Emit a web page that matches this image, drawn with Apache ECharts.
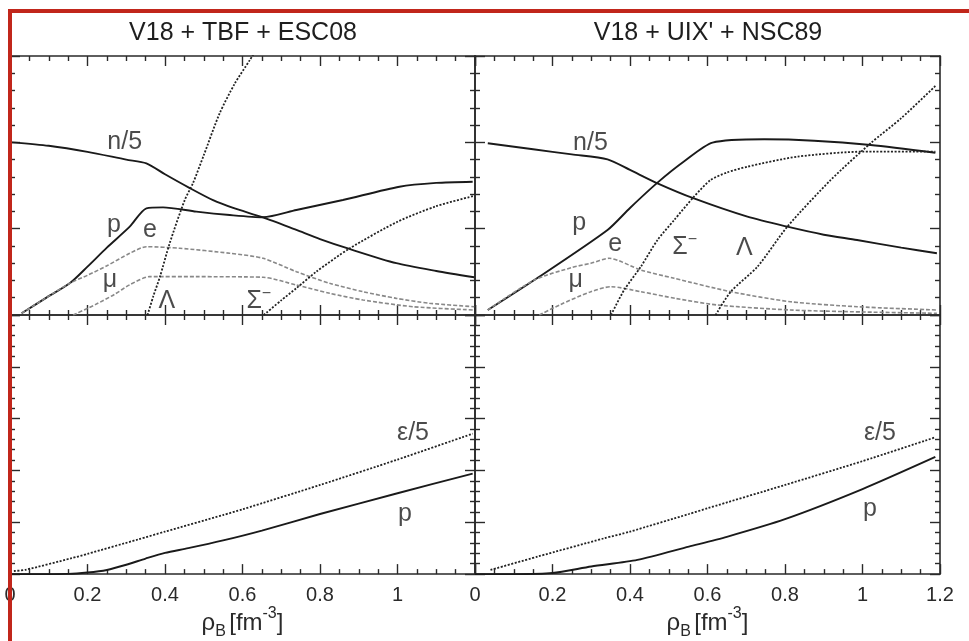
<!DOCTYPE html>
<html><head><meta charset="utf-8">
<script src="https://cdn.jsdelivr.net/npm/echarts@6/dist/echarts.min.js"></script>
<style>html,body{margin:0;padding:0;background:#fff}#c{width:969px;height:641px}</style>
</head><body><div id="c"></div>
<script>
// ---------- data ----------
const panelTitles = ['V18 + TBF + ESC08', "V18 + UIX' + NSC89"];
const xTickLabels = ['0', '0.2', '0.4', '0.6', '0.8', '1', '1.2'];

// top-left: particle fractions (V18 + TBF + ESC08)
const tlN5 = [[0.005,0.200],[0.10,0.196],[0.20,0.189],[0.30,0.180],[0.352,0.1757],[0.40,0.163],[0.464,0.147],[0.524,0.133],[0.576,0.124],[0.653,0.113],[0.739,0.0985],[0.80,0.088],[0.876,0.0765],[0.997,0.060],[1.10,0.051],[1.198,0.0437]];
const tlP   = [[0.03,0.002],[0.09,0.019],[0.155,0.037],[0.20,0.056],[0.25,0.078],[0.309,0.1023],[0.352,0.1236],[0.395,0.1247],[0.481,0.1197],[0.567,0.1158],[0.653,0.1132],[0.739,0.1216],[0.859,0.1332],[1.005,0.1486],[1.10,0.153],[1.194,0.1544]];
const tlE   = [[0.03,0.002],[0.09,0.019],[0.155,0.037],[0.20,0.046],[0.25,0.057],[0.309,0.0715],[0.352,0.0791],[0.438,0.0773],[0.567,0.0715],[0.653,0.0657],[0.739,0.0502],[0.825,0.0367],[0.911,0.027],[0.997,0.0193],[1.082,0.0136],[1.198,0.0096]];
const tlMu  = [[0.163,0.0],[0.22,0.012],[0.27,0.024],[0.309,0.035],[0.36,0.0444],[0.481,0.0444],[0.653,0.0437],[0.739,0.0347],[0.825,0.0251],[0.911,0.0174],[1.04,0.0096],[1.198,0.0058]];
const tlLam = [[0.355,0.0],[0.37,0.022],[0.387,0.0444],[0.412,0.083],[0.451,0.1332],[0.472,0.1525],[0.50,0.185],[0.541,0.2336],[0.58,0.268],[0.619,0.2954],[0.632,0.305]];
const tlSig = [[0.655,0.0],[0.70,0.017],[0.739,0.031],[0.79,0.050],[0.876,0.077],[1.0,0.108],[1.10,0.126],[1.198,0.138]];

// top-right: particle fractions (V18 + UIX' + NSC89)
const trN5  = [[0.033,0.199],[0.15,0.192],[0.25,0.186],[0.342,0.1803],[0.40,0.168],[0.471,0.1525],[0.565,0.135],[0.703,0.1139],[0.806,0.1023],[0.90,0.093],[0.986,0.0869],[1.10,0.078],[1.192,0.0715]];
const trP   = [[0.033,0.0058],[0.153,0.0405],[0.342,0.0985],[0.40,0.124],[0.471,0.1533],[0.54,0.178],[0.613,0.1996],[0.746,0.2035],[0.875,0.2019],[1.021,0.1969],[1.188,0.188]];
const trE   = [[0.033,0.0058],[0.153,0.0405],[0.25,0.055],[0.299,0.0599],[0.346,0.0657],[0.428,0.0521],[0.514,0.0425],[0.66,0.027],[0.814,0.0154],[0.986,0.0096],[1.192,0.0058]];
const trMu  = [[0.166,0.0],[0.22,0.012],[0.299,0.027],[0.351,0.0328],[0.428,0.027],[0.52,0.019],[0.625,0.0116],[0.814,0.0058],[1.0,0.0035],[1.192,0.002]];
const trSig = [[0.351,0.0],[0.385,0.029],[0.428,0.056],[0.471,0.0869],[0.514,0.11],[0.565,0.137],[0.608,0.1564],[0.65,0.165],[0.703,0.1718],[0.832,0.1834],[1.003,0.1892],[1.188,0.1892]];
const trLam = [[0.621,0.0],[0.66,0.027],[0.729,0.056],[0.806,0.1023],[0.918,0.1564],[1.021,0.199],[1.10,0.228],[1.188,0.2653]];

// bottom-left: energy density / 5 and pressure
const blEps  = [[0.01,6],[0.04,8.3],[0.159,30.7],[0.20,39],[0.331,67],[0.40,82],[0.55,114],[0.60,125],[0.80,172],[1.00,221],[1.194,271]];
const blPres = [[0.0,0],[0.15,0.5],[0.20,3],[0.25,8],[0.30,18],[0.35,30],[0.40,41],[0.46,50],[0.55,65],[0.65,84],[0.80,116],[1.00,156],[1.194,194]];
// bottom-right
const brEps  = [[0.04,8],[0.162,33.9],[0.333,69],[0.40,82],[0.552,116],[0.60,127],[0.80,172],[1.00,218],[1.188,264]];
const brPres = [[0.0,0],[0.10,0],[0.20,2],[0.30,14.7],[0.419,27.4],[0.552,53],[0.65,72],[0.80,106],[1.00,164],[1.188,226]];

// curve labels [x, y, text]
const tlLabels = [[0.296,0.2004,'n/5'],[0.268,0.104,'p'],[0.361,0.0985,'e'],[0.258,0.0405,'μ'],[0.405,0.0162,'Λ'],[0.642,0.0162,'Σ⁻']];
const trLabels = [[0.298,0.1993,'n/5'],[0.269,0.1066,'p'],[0.362,0.0822,'e'],[0.26,0.0405,'μ'],[0.541,0.0788,'Σ⁻'],[0.695,0.0776,'Λ']];
const blLabels = [[1.04,272,'ε/5'],[1.019,115,'p']];
const brLabels = [[1.045,272,'ε/5'],[1.019,126,'p']];

// ---------- chart ----------
const FONT = 'Liberation Sans, Arial, Helvetica, sans-serif';
const INK = '#1e1e1e';
const grids = [
  {left:10, top:56, width:465, height:259},
  {left:475, top:56, width:465, height:259},
  {left:10, top:315, width:465, height:261},
  {left:475, top:315, width:465, height:261}
];
const tickStyle = {color:'#2a2a2a', width:1.4};
function xAx(g, pos, labels, hideMax) {
  return {
    type:'value', gridIndex:g, position:pos, min:0, max:1.2, interval:0.2,
    axisLine:{show:true, onZero:false, lineStyle:{color:'#2a2a2a', width:1.6}},
    axisTick:{show:true, inside:true, length:10, lineStyle:tickStyle},
    minorTick:{show:true, splitNumber:4, length:5, lineStyle:tickStyle},
    splitLine:{show:false},
    axisLabel:{show:labels, showMinLabel:true, showMaxLabel:true, fontSize:20, color:'#2a2a2a', fontFamily:FONT, margin:11,
      formatter: v => { const i = Math.round(v/0.2); if (hideMax && i === 6) return ''; return xTickLabels[i]; }},
    name: labels && pos === 'bottom' ? '{r|ρ}{sub|B} {r|[fm}{sup|-3}{r|]}' : '',
    nameLocation:'middle', nameGap:30,
    nameTextStyle:{fontFamily:FONT, color:'#2a2a2a', rich:{
      r:{fontSize:24, fontFamily:FONT, color:'#2a2a2a', lineHeight:34},
      sub:{fontSize:16, fontFamily:FONT, color:'#2a2a2a', verticalAlign:'bottom', lineHeight:18},
      sup:{fontSize:16, fontFamily:FONT, color:'#2a2a2a', verticalAlign:'top', lineHeight:18}
    }}
  };
}
function yAx(g, pos, max, interval) {
  return {
    type:'value', gridIndex:g, position:pos, min:0, max:max, interval:interval,
    axisLine:{show:true, onZero:false, lineStyle:{color:'#2a2a2a', width:1.6}},
    axisTick:{show:true, inside:true, length:10, lineStyle:tickStyle},
    minorTick:{show:true, splitNumber:5, length:5, lineStyle:tickStyle},
    splitLine:{show:false}, axisLabel:{show:false}
  };
}
const xAxes = [], yAxes = [];
for (let g = 0; g < 4; g++) {
  const bottomRow = g >= 2;
  xAxes.push(xAx(g, 'bottom', bottomRow, g === 2));
  xAxes.push(xAx(g, 'top', false, false));
  const ymax = bottomRow ? 500 : 0.3, yint = bottomRow ? 100 : 0.1;
  yAxes.push(yAx(g, 'left', ymax, yint));
  yAxes.push(yAx(g, 'right', ymax, yint));
}
const styles = {
  solid:{color:'#1a1a1a', width:1.9, type:'solid'},
  dot:{color:'#222', width:1.8, type:[2,1.6]},
  dash:{color:'#888', width:1.6, type:[4,2]}
};
function line(data, g, kind) {
  return {type:'line', xAxisIndex:2*g, yAxisIndex:2*g, data:data, showSymbol:false, symbol:'none', smooth:0.25,
    lineStyle:styles[kind], itemStyle:{color:styles[kind].color}, silent:true, clip:true, animation:false};
}
function labelText(t) {
  if (t === 'Σ⁻') return '{a|Σ}{s|−}';
  return '{a|' + t + '}';
}
function labels(arr, g) {
  return {type:'scatter', xAxisIndex:2*g, yAxisIndex:2*g, symbolSize:0, silent:true, animation:false, z:5,
    itemStyle:{color:'rgba(0,0,0,0)'},
    data: arr.map(a => ({value:[a[0], a[1]], name:a[2]})),
    label:{show:true, position:'inside', formatter: p => labelText(p.name),
      rich:{a:{fontSize:25, fontFamily:FONT, color:INK, lineHeight:30},
            s:{fontSize:16, fontFamily:FONT, color:INK, verticalAlign:'top', lineHeight:16}}}
  };
}
const series = [
  line(tlN5,0,'solid'), line(tlP,0,'solid'), line(tlE,0,'dash'), line(tlMu,0,'dash'), line(tlLam,0,'dot'), line(tlSig,0,'dot'),
  line(trN5,1,'solid'), line(trP,1,'solid'), line(trE,1,'dash'), line(trMu,1,'dash'), line(trSig,1,'dot'), line(trLam,1,'dot'),
  line(blEps,2,'dot'), line(blPres,2,'solid'),
  line(brEps,3,'dot'), line(brPres,3,'solid'),
  labels(tlLabels,0), labels(trLabels,1), labels(blLabels,2), labels(brLabels,3)
];
const chart = echarts.init(document.getElementById('c'), null, {renderer:'canvas'});
chart.setOption({
  animation:false,
  backgroundColor:'#fff',
  grid: grids,
  xAxis: xAxes,
  yAxis: yAxes,
  series: series,
  graphic: [
    {type:'text', x:243, y:33, z:50, style:{text:panelTitles[0], fontSize:25, fontFamily:FONT, fill:INK, textAlign:'center', textVerticalAlign:'middle'}},
    {type:'text', x:708, y:33, z:50, style:{text:panelTitles[1], fontSize:25, fontFamily:FONT, fill:INK, textAlign:'center', textVerticalAlign:'middle'}},
    {type:'rect', z:100, silent:true, shape:{x:10, y:11, width:1000, height:700}, style:{fill:'none', stroke:'#c1261b', lineWidth:4}}
  ]
});
</script>
</body></html>
